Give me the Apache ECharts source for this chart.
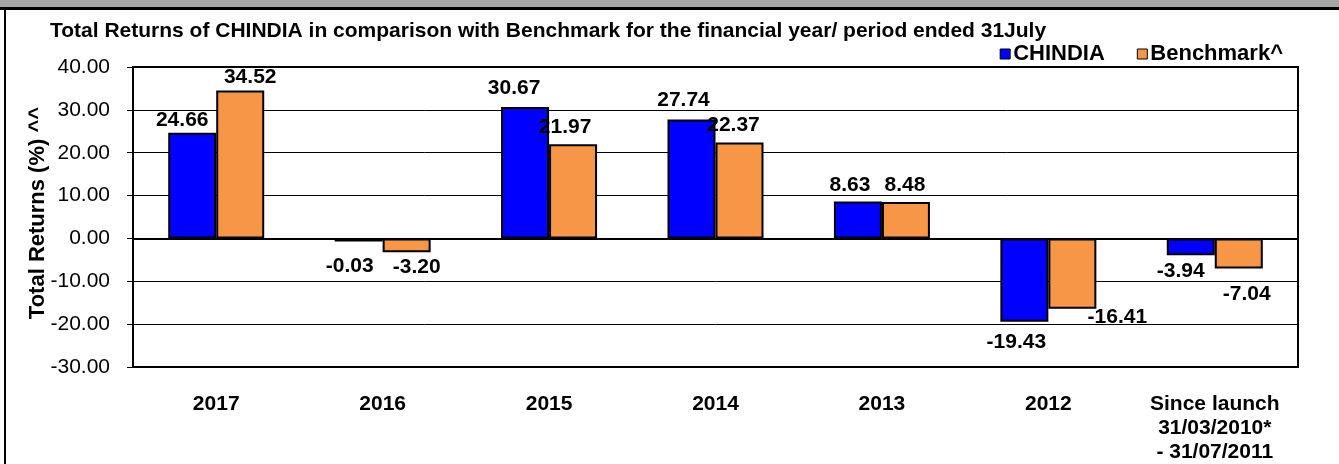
<!DOCTYPE html>
<html>
<head>
<meta charset="utf-8">
<script src="https://cdn.jsdelivr.net/npm/echarts@6/dist/echarts.min.js"></script>
<style>
html,body{margin:0;padding:0;background:#fff;}
#chart{width:1339px;height:464px;}
</style>
</head>
<body>
<div id="chart"></div>
<script>
const categories = ['2017', '2016', '2015', '2014', '2013', '2012', 'Since launch\n31/03/2010*\n- 31/07/2011'];
const chindia = [24.66, -0.03, 30.67, 27.74, 8.63, -19.43, -3.94];
const benchmark = [34.52, -3.20, 21.97, 22.37, 8.48, -16.41, -7.04];
const yTicks = [-30, -20, -10, 0, 10, 20, 30, 40];
const titleText = 'Total Returns of CHINDIA in comparison with Benchmark for the financial year/ period ended 31July';
const yAxisName = 'Total Returns (%) ^^';

// label nudges (style only)
const chindiaLabelShift = [[-10, 3], [-9, 9], [-11, -3], [-8, -4], [-8, -1], [-8, 5], [-10, 0]];
const benchmarkLabelShift = [[10, 2], [10, 0], [-8, -2], [-6, -2], [-1, -1], [45, -7], [8, 10]];

const FONT = 'Liberation Sans, Arial, sans-serif';

function buildData(values, shifts) {
  return values.map((v, i) => ({
    value: v,
    label: {
      position: v >= 0 ? 'top' : 'bottom',
      offset: shifts[i]
    }
  }));
}

const chart = echarts.init(document.getElementById('chart'), null, {renderer: 'canvas'});
const option = {
  animation: false,
  backgroundColor: '#fff',
  graphic: [
    {type: 'rect', left: 0, top: 0, shape: {width: 1339, height: 7}, style: {fill: '#a6a6a6'}, silent: true},
    {type: 'rect', left: 0, top: 7, shape: {width: 1339, height: 3}, style: {fill: '#000'}, silent: true},
    {type: 'rect', left: 4, top: 7, shape: {width: 2, height: 457}, style: {fill: '#000'}, silent: true}
  ],
  title: {
    text: titleText,
    left: 50,
    top: 21,
    padding: 0,
    textStyle: {fontFamily: FONT, fontSize: 21, fontWeight: 'bold', color: '#000', lineHeight: 21}
  },
  legend: {
    right: 56,
    top: 43,
    padding: 0,
    itemWidth: 10,
    itemHeight: 10,
    itemGap: 32,
    icon: 'rect',
    itemStyle: {borderColor: '#000', borderWidth: 1},
    textStyle: {fontFamily: FONT, fontSize: 22, fontWeight: 'bold', color: '#000', padding: [0, 0, 0, -2]},
    data: ['CHINDIA', 'Benchmark^']
  },
  grid: {
    left: 133, right: 41, top: 67, bottom: 95,
    show: true, borderColor: '#000', borderWidth: 2, containLabel: false
  },
  xAxis: {
    type: 'category',
    data: categories,
    axisLine: {show: true, lineStyle: {color: '#000', width: 2}},
    axisTick: {show: false},
    axisLabel: {
      margin: 25, interval: 0,
      fontFamily: FONT, fontSize: 21, fontWeight: 'bold', color: '#000', lineHeight: 24
    }
  },
  yAxis: {
    type: 'value',
    min: yTicks[0],
    max: yTicks[yTicks.length - 1],
    interval: 10,
    name: yAxisName,
    nameLocation: 'middle',
    nameRotate: 90,
    nameGap: 84,
    nameMoveOverlap: false,
    nameTextStyle: {fontFamily: FONT, fontSize: 22, fontWeight: 'bold', color: '#000', padding: [0, 0, 0, 8]},
    axisLine: {show: true, lineStyle: {color: '#000', width: 2}},
    axisTick: {show: true, inside: false, length: 6, lineStyle: {color: '#000', width: 1}},
    axisLabel: {
      margin: 23,
      fontFamily: FONT, fontSize: 21, color: '#000',
      formatter: v => v.toFixed(2)
    },
    splitLine: {show: true, lineStyle: {color: '#000', width: 1}}
  },
  series: [
    {
      name: 'CHINDIA',
      type: 'bar',
      data: buildData(chindia, chindiaLabelShift),
      barWidth: 48,
      barGap: '0%',
      barMinHeight: 3,
      itemStyle: {color: '#0000ff', borderColor: '#000', borderWidth: 2},
      label: {
        show: true, distance: 5,
        fontFamily: FONT, fontSize: 21, fontWeight: 'bold', color: '#000',
        formatter: p => p.value.toFixed(2)
      }
    },
    {
      name: 'Benchmark^',
      type: 'bar',
      data: buildData(benchmark, benchmarkLabelShift),
      barWidth: 48,
      barGap: '0%',
      barMinHeight: 3,
      itemStyle: {color: '#f79646', borderColor: '#000', borderWidth: 2},
      label: {
        show: true, distance: 5,
        fontFamily: FONT, fontSize: 21, fontWeight: 'bold', color: '#000',
        formatter: p => p.value.toFixed(2)
      }
    }
  ]
};
chart.setOption(option);
</script>
</body>
</html>
